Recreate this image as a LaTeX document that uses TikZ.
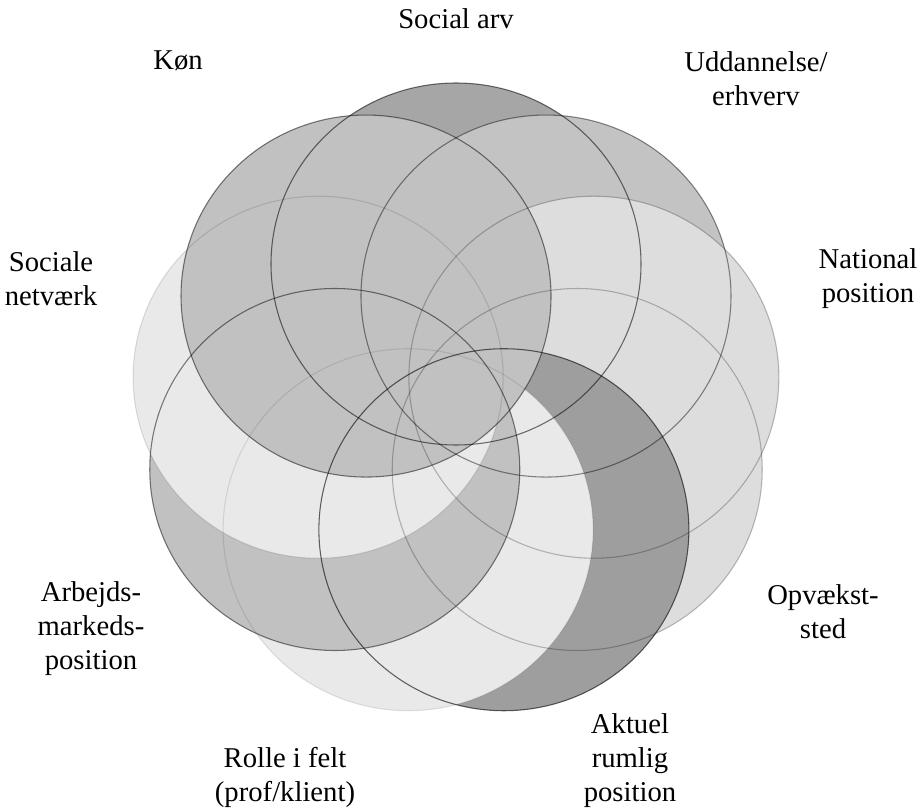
\documentclass[tikz,border=0pt]{standalone}
\usepackage{fontspec}
\setmainfont{Liberation Serif}
\usetikzlibrary{calc}
% fills of the nine rings
\definecolor{arvfill}{gray}{0.65}
\definecolor{uddfill}{gray}{0.765}
\definecolor{natfill}{gray}{0.865}
\definecolor{opvfill}{gray}{0.865}
\definecolor{aktfill}{gray}{0.62}
\definecolor{rolfill}{gray}{0.915}
\definecolor{arbfill}{gray}{0.755}
\definecolor{socfill}{gray}{0.915}
\definecolor{konfill}{gray}{0.755}
\tikzset{
  rim/.style={draw=black, draw opacity=#1, line width=0.8pt},
  caption/.style={font=\fontsize{21.5}{25.5}\selectfont, align=center, inner sep=0pt},
}

\begin{document}
\begin{tikzpicture}[x=0.75pt, y=-0.75pt]
  \useasboundingbox (0,0) rectangle (921,812);
  \coordinate (O) at (456,401); % middle of the ring
  % discs, the lowest one first
  \foreach \a/\c in {90/arvfill, 50/uddfill, 10/natfill, -30/opvfill,
    -70/aktfill, -110/rolfill, -150/arbfill, 170/socfill, 130/konfill}{
    \fill[\c] ($(O)+({140*cos(\a)},{-137*sin(\a)})$) ellipse [x radius=185, y radius=181]; %
  }
  % rims over all discs
  \foreach \a/\o in {90/0.55, 50/0.45, 10/0.25, -30/0.25,
    -70/0.6, -110/0.1, -150/0.5, 170/0.12, 130/0.5}{
    \draw[rim=\o] ($(O)+({140*cos(\a)},{-137*sin(\a)})$) ellipse [x radius=185, y radius=181]; %
  }
  % captions
  \node[caption] (socialarv) at (456,19) {Social arv};
  \node[caption] (koen) at (178,61) {Køn};
  \node[caption] (uddannelse) at (756,79) {Uddannelse/\\erhverv};
  \node[caption] (sociale) at (51,279) {Sociale\\netværk};
  \node[caption] (national) at (868,279) {National\\position};
  \node[caption] (arbejde) at (91,629) {Arbejds-\\markeds-\\position};
  \node[caption] (opvaekst) at (823,612) {Opvækst-\\sted};
  \node[caption] (aktuel) at (630,761) {Aktuel\\rumlig\\position};
  \node[caption] (rolle) at (285,777) {Rolle i felt\\(prof/klient)};
\end{tikzpicture}
\end{document}
